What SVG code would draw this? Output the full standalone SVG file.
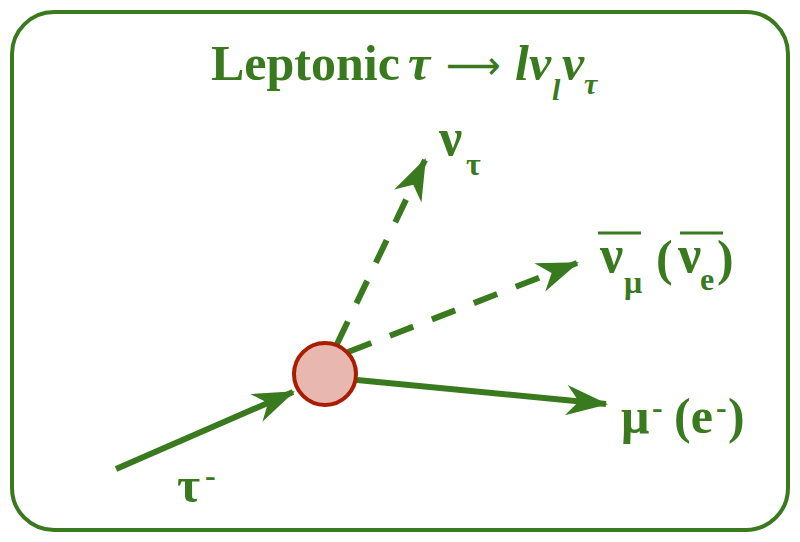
<svg xmlns="http://www.w3.org/2000/svg" width="800" height="542" viewBox="0 0 800 542">
<defs>
<style>
.t{font-family:"Liberation Serif","Times New Roman",serif;font-weight:bold;fill:#3a7a1f}
.i{font-style:italic}
.ln{stroke:#3a7a1f;stroke-width:6;fill:none}
.d{stroke-dasharray:25,20}
.ov{stroke:#3a7a1f;stroke-width:3}
</style>
<marker id="ah" viewBox="0 0 10 10" refX="9.5" refY="5" markerWidth="7" markerHeight="7" markerUnits="strokeWidth" orient="auto">
<path d="M0,1.4 L10,5 L0,8.6 L3,5 Z" fill="#3a7a1f"/>
</marker>
</defs>
<rect x="12" y="12" width="776" height="518" rx="42" fill="#fff" stroke="#3a7a1f" stroke-width="4"/>
<g id="title">
<text class="t" x="211" y="80" font-size="50">Leptonic</text>
<text class="t i" x="408" y="80" font-size="50">τ</text>
<text x="446" y="79" font-size="40" font-family="DejaVu Sans, sans-serif" fill="#3a7a1f" textLength="55" lengthAdjust="spacingAndGlyphs">⟶</text>
<text class="t i" x="515" y="80" font-size="50">l</text>
<text class="t i" x="529" y="80" font-size="50">ν</text>
<text class="t i" x="552" y="100" font-size="30">l</text>
<text class="t i" x="562" y="80" font-size="50">ν</text>
<text class="t i" x="584" y="94" font-size="30">τ</text>
</g>
<g id="connectors">
<line class="ln" x1="116" y1="469" x2="293" y2="392" marker-end="url(#ah)"/>
<line class="ln d" x1="337" y1="344" x2="425" y2="160" marker-end="url(#ah)"/>
<line class="ln d" x1="348" y1="352" x2="577" y2="263" marker-end="url(#ah)"/>
<line class="ln" x1="357" y1="380" x2="606" y2="404" marker-end="url(#ah)"/>
</g>
<g id="vertex">
<circle cx="325" cy="374" r="31" fill="#e8b8b0" stroke="#a81c00" stroke-width="4"/>
</g>
<g id="nu_tau">
<text class="t" x="439" y="155" font-size="52">ν</text>
<text class="t" x="466" y="175" font-size="32">τ</text>
</g>
<g id="nubar">
<line class="ov" x1="598" y1="233" x2="641" y2="233"/>
<text class="t" x="600" y="272" font-size="52">ν</text>
<text class="t" x="624" y="293" font-size="32">μ</text>
<text class="t" x="656" y="275" font-size="50">(</text>
<line class="ov" x1="680" y1="233" x2="723" y2="233"/>
<text class="t" x="678" y="272" font-size="52">ν</text>
<text class="t" x="700" y="290" font-size="32">e</text>
<text class="t" x="717" y="275" font-size="50">)</text>
</g>
<g id="mu">
<text class="t" x="621" y="433" font-size="50">μ</text>
<text class="t" x="652" y="418" font-size="32">-</text>
<text class="t" x="674" y="433" font-size="50">(e</text>
<text class="t" x="716" y="418" font-size="32">-</text>
<text class="t" x="728" y="433" font-size="50">)</text>
</g>
<g id="tau">
<text class="t" x="177" y="502" font-size="50">τ</text>
<text class="t" x="205" y="486" font-size="32">-</text>
</g>
</svg>
